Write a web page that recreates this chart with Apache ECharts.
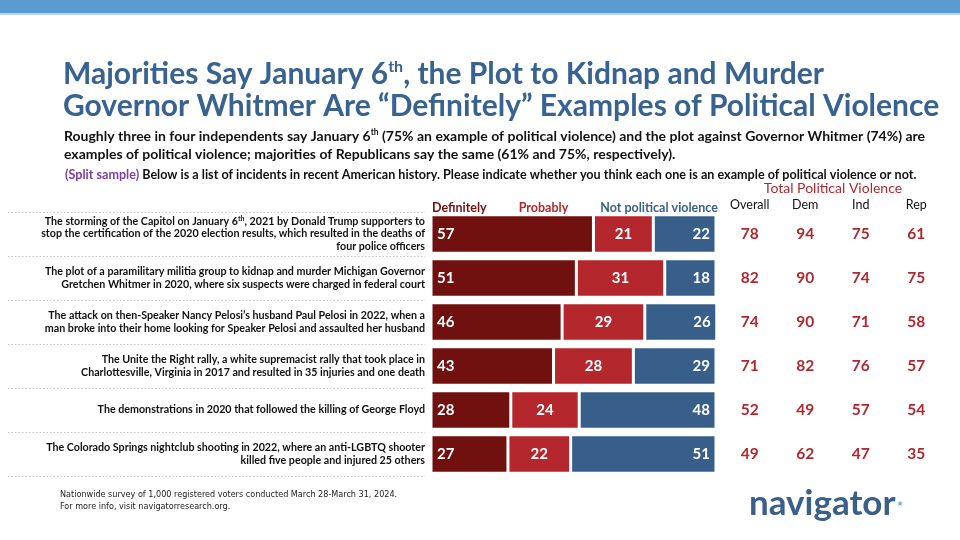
<!DOCTYPE html>
<html><head><meta charset="utf-8">
<script src="https://cdn.jsdelivr.net/npm/echarts@6/dist/echarts.min.js"></script>
<style>html,body{margin:0;padding:0;background:#fff}#c{width:960px;height:540px}</style>
</head><body><div id="c"></div>
<script>
const categories = [
  'The storming of the Capitol on January 6th, 2021 by Donald Trump supporters to\nstop the certification of the 2020 election results, which resulted in the deaths of\nfour police officers',
  'The plot of a paramilitary militia group to kidnap and murder Michigan Governor\nGretchen Whitmer in 2020, where six suspects were charged in federal court',
  'The attack on then-Speaker Nancy Pelosi’s husband Paul Pelosi in 2022, when a\nman broke into their home looking for Speaker Pelosi and assaulted her husband',
  'The Unite the Right rally, a white supremacist rally that took place in\nCharlottesville, Virginia in 2017 and resulted in 35 injuries and one death',
  'The demonstrations in 2020 that followed the killing of George Floyd',
  'The Colorado Springs nightclub shooting in 2022, where an anti-LGBTQ shooter\nkilled five people and injured 25 others'
];
const seriesNames = ['Definitely', 'Probably', 'Not political violence'];
const definitely = [57, 51, 46, 43, 28, 27];
const probably = [21, 31, 29, 28, 24, 22];
const notViolence = [22, 18, 26, 29, 48, 51];
const tableColumns = ['Overall', 'Dem', 'Ind', 'Rep'];
const overall = [78, 82, 74, 71, 52, 49];
const dem = [94, 90, 90, 82, 49, 62];
const ind = [75, 74, 71, 76, 57, 47];
const rep = [61, 75, 58, 57, 54, 35];

const FONT = 'Lato';
const C_DEF = '#70100f', C_PROB = '#b3272d', C_NOT = '#375f89', C_TAB = '#b0282f';
const C_TITLE = '#386391';

const tableCols = [overall, dem, ind, rep];
const tableData = [];
tableCols.forEach((col, ci) => col.forEach((v, ri) => tableData.push([ci, ri, v])));

const chart = echarts.init(document.getElementById('c'), null, {renderer: 'canvas'});
const GT = 212, GB = 64;
const option = {
  backgroundColor: '#fff',
  animation: false,
  graphic: [
    {type: 'rect', left: 0, top: 0, shape: {width: 960, height: 13}, style: {fill: '#5b9bd0'}},
    {type: 'rect', left: 0, top: 13, shape: {width: 960, height: 2}, style: {fill: '#b9d3ea'}}
  ],
  title: [
    {
      text: 'Majorities Say January 6{sup|th}, the Plot to Kidnap and Murder\nGovernor Whitmer Are “Definitely” Examples of Political Violence',
      left: 58, top: 53,
      textStyle: {fontFamily: FONT, fontWeight: 'bold', fontSize: 30, color: C_TITLE, lineHeight: 32,
        rich: {sup: {fontFamily: FONT, fontWeight: 'bold', fontSize: 16, color: C_TITLE, padding: [0, 0, 15, 0]}}}
    },
    {
      text: 'Roughly three in four independents say January 6{sup|th} (75% an example of political violence) and the plot against Governor Whitmer (74%) are\nexamples of political violence; majorities of Republicans say the same (61% and 75%, respectively).',
      left: 59, top: 122,
      textStyle: {fontFamily: FONT, fontWeight: 'bold', fontSize: 14, color: '#111', lineHeight: 18,
        rich: {sup: {fontFamily: FONT, fontWeight: 'bold', fontSize: 8.5, color: '#111', padding: [0, 0, 7, 0]}}}
    },
    {
      text: '{p|(Split sample)} Below is a list of incidents in recent American history. Please indicate whether you think each one is an example of political violence or not.',
      left: 60, top: 163,
      textStyle: {fontFamily: FONT, fontWeight: 'bold', fontSize: 12.6, color: '#111',
        rich: {p: {fontFamily: FONT, fontWeight: 'bold', fontSize: 12.6, color: '#7a3fa3'}}}
    },
    {
      text: 'Nationwide survey of 1,000 registered voters conducted March 28-March 31, 2024.\nFor more info, visit navigatorresearch.org.',
      left: 55, top: 484,
      textStyle: {fontFamily: '"DejaVu Sans Condensed", Roboto, sans-serif', fontWeight: 'normal', fontSize: 9, color: '#222', lineHeight: 12}
    },
    {
      text: 'navigator{d|★}',
      left: 744, top: 481,
      textStyle: {fontFamily: FONT, fontWeight: 'bold', fontSize: 35, color: '#3a5f8b',
        rich: {d: {fontFamily: 'DejaVu Sans', fontSize: 8, color: '#7aaad8', padding: [0, 0, 0, 1]}}}
    }
  ],
  legend: {
    left: 421, top: 196, itemGap: 26, itemWidth: 0, itemHeight: 0, icon: 'rect',
    selectedMode: false,
    data: [
      {name: seriesNames[0], textStyle: {color: C_DEF}},
      {name: seriesNames[1], textStyle: {color: C_PROB}},
      {name: seriesNames[2], textStyle: {color: C_NOT}}
    ],
    textStyle: {fontFamily: FONT, fontWeight: 'bold', fontSize: 12.5}
  },
  grid: [
    {left: 431, right: 244, top: GT, bottom: GB, containLabel: false},
    {left: 8, width: 417, top: GT, bottom: GB},
    {left: 722, width: 222, top: GT, bottom: GB}
  ],
  xAxis: [
    {gridIndex: 0, type: 'value', min: 0, max: 100, show: false},
    {gridIndex: 1, type: 'value', min: 0, max: 1, show: false},
    {gridIndex: 2, type: 'category', data: tableColumns, position: 'top',
     axisLine: {show: false}, axisTick: {show: false},
     axisLabel: {margin: 1, fontFamily: FONT, fontSize: 12.5, color: '#111', fontWeight: 'normal'},
     name: 'Total Political Violence', nameLocation: 'middle', nameGap: 17,
     nameTextStyle: {fontFamily: FONT, fontSize: 14, color: C_TAB, fontWeight: 'normal'}}
  ],
  yAxis: [
    {gridIndex: 0, type: 'category', data: categories, inverse: true,
     axisLine: {show: false}, axisTick: {show: false},
     axisLabel: {margin: 6, fontFamily: FONT, fontWeight: 'bold', fontSize: 10.7, color: '#111', lineHeight: 12.5, align: 'right',
       formatter: v => v.replace('January 6th', 'January 6{s|th}'),
       rich: {s: {fontFamily: FONT, fontWeight: 'bold', fontSize: 7, color: '#111', padding: [0, 0, 5, 0]}}}},
    {gridIndex: 1, type: 'category', data: categories, inverse: true,
     axisLine: {show: false}, axisTick: {show: false}, axisLabel: {show: false},
     splitLine: {show: true, lineStyle: {color: '#c4c4c4', type: [1.5, 2], width: 1}}},
    {gridIndex: 2, type: 'category', data: categories, inverse: true, show: false}
  ],
  series: [
    {name: seriesNames[0], type: 'bar', stack: 's', data: definitely, barWidth: 38.5, clip: true,
     itemStyle: {color: C_DEF, borderColor: '#fff', borderWidth: 1.5},
     label: {show: true, position: 'insideLeft', distance: 6, color: '#fff', fontFamily: FONT, fontWeight: 'bold', fontSize: 15}},
    {name: seriesNames[1], type: 'bar', stack: 's', data: probably, barWidth: 38.5, clip: true,
     itemStyle: {color: C_PROB, borderColor: '#fff', borderWidth: 1.5},
     label: {show: true, position: 'inside', color: '#fff', fontFamily: FONT, fontWeight: 'bold', fontSize: 15}},
    {name: seriesNames[2], type: 'bar', stack: 's', data: notViolence, barWidth: 38.5, clip: true,
     itemStyle: {color: C_NOT, borderColor: '#fff', borderWidth: 1.5},
     label: {show: true, position: 'insideRight', distance: 6, color: '#fff', fontFamily: FONT, fontWeight: 'bold', fontSize: 15}},
    {type: 'scatter', xAxisIndex: 2, yAxisIndex: 2, data: tableData, symbolSize: 0,
     itemStyle: {opacity: 1},
     label: {show: true, position: 'inside', formatter: p => p.value[2], color: C_TAB, fontFamily: FONT, fontWeight: 'bold', fontSize: 15.5}}
  ]
};
chart.setOption(option);
</script></body></html>
